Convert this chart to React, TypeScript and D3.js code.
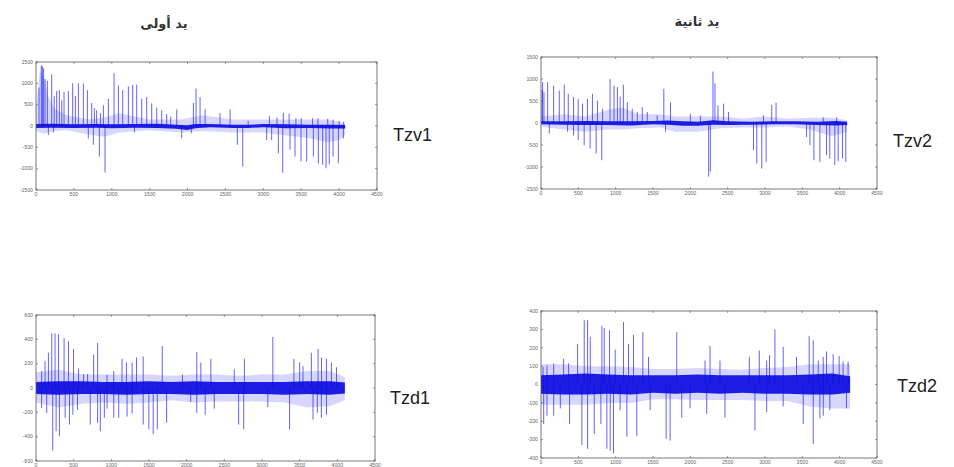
import React from "react";
import * as d3 from "d3";

type Spike = [number, number];
type Band = [number, number, number]; // x, low, high

const xTicks = [0, 500, 1000, 1500, 2000, 2500, 3000, 3500, 4000, 4500];
const tzvTicks = [-1500, -1000, -500, 0, 500, 1000, 1500];
const tzd1Ticks = [-600, -400, -200, 0, 200, 400, 600];
const tzd2Ticks = [-400, -300, -200, -100, 0, 100, 200, 300, 400];

const titles = ["يد أولى", "يد ثانية"];

// Tzv1 (first hand)
const tzv1Spikes: Spike[] = [
  [40, 900], [70, 1420], [84, 1400], [100, 1350], [120, 1100], [150, 1060], [207, 1210], [240, 700],
  [273, 820], [308, 840], [340, 600], [370, 800], [427, 820], [484, 1000], [520, 700], [559, 1000],
  [625, 1000], [678, 840], [735, 540], [770, 420], [800, 370], [850, 300], [889, 490], [955, 640],
  [1030, 1240], [1087, 950], [1144, 840], [1219, 930], [1276, 960], [1329, 970], [1395, 640],
  [1461, 680], [1527, 530], [1593, 430], [1659, 370], [1725, 280], [1777, 220], [1857, 390],
  [2077, 540], [2112, 880], [2165, 680], [2231, 390], [2429, 300], [2561, 390], [2800, 120],
  [3080, 230], [3180, 200], [3264, 310], [3340, 290], [3430, 180], [3500, 180], [3650, 180],
  [3720, 180], [3850, 170], [3920, 150], [4000, 120], [4060, 100],
  [163, -210], [230, -150], [690, -290], [757, -440], [836, -715], [911, -1090], [1300, -150],
  [1923, -290], [2050, -170], [2657, -440], [2728, -950], [3044, -330], [3110, -330], [3198, -640],
  [3256, -1100], [3352, -560], [3418, -715], [3497, -830], [3572, -830], [3660, -715], [3726, -880],
  [3783, -910], [3827, -990], [3870, -900], [3920, -720], [3990, -870], [4056, -290],
];
const tzv1Core: Band[] = [
  [0, -45, 45], [200, -40, 50], [500, -45, 40], [800, -40, 45], [1000, -55, 40], [1300, -40, 45],
  [1600, -45, 55], [1850, -65, 30], [2000, -95, 20], [2100, -50, 45], [2300, -30, 45], [2600, -45, 30],
  [2800, -45, 30], [3000, -30, 45], [3300, -55, 40], [3600, -45, 30], [3900, -60, 30], [4080, -60, 25],
];
const tzv1Halo: Band[] = [
  [0, -120, 400], [50, -150, 1300], [110, -180, 1100], [160, -150, 700], [250, -120, 400],
  [400, -100, 250], [700, -200, 150], [900, -250, 200], [1100, -150, 300], [1500, -100, 150],
  [1900, -150, 150], [2200, -120, 250], [2600, -150, 150], [3000, -150, 150], [3300, -220, 150],
  [3600, -280, 150], [3850, -380, 150], [4000, -330, 100], [4080, -220, 50],
];

// Tzv2 (second hand)
const tzv2Spikes: Spike[] = [
  [15, 750], [22, 930], [40, 700], [89, 930], [169, 850], [245, 740], [311, 870], [365, 665],
  [436, 590], [498, 550], [556, 440], [622, 550], [689, 665], [756, 510], [825, 325], [925, 1000],
  [978, 850], [1023, 815], [1060, 600], [1103, 870], [1156, 475], [1222, 325], [1290, 250],
  [1356, 360], [1423, 250], [1556, 170], [1645, 780], [1734, 475], [2000, 210], [2135, 170],
  [2303, 1170], [2330, 900], [2370, 400], [2446, 440], [2512, 250], [2979, 175], [3090, 415],
  [3148, 460], [3780, 130], [3960, 130],
  [111, -240], [356, -200], [436, -280], [498, -390], [578, -506], [658, -580], [738, -695],
  [814, -846], [1668, -200], [2245, -1220], [2268, -1100], [2846, -620], [2890, -920], [2957, -1035],
  [3015, -884], [3557, -317], [3602, -506], [3655, -846], [3735, -884], [3824, -733], [3868, -808],
  [3935, -959], [3980, -870], [4037, -808], [4082, -884],
];
const tzv2Core: Band[] = [
  [0, -30, 40], [300, -40, 40], [600, -45, 45], [900, -45, 40], [1200, -55, 40], [1500, -30, 45],
  [1700, -40, 55], [1900, -65, 40], [2100, -65, 30], [2300, -40, 65], [2500, -45, 40], [2800, -40, 30],
  [3100, -30, 40], [3400, -30, 40], [3700, -45, 30], [3950, -55, 45], [4100, -45, 30],
];
const tzv2Halo: Band[] = [
  [0, -80, 150], [300, -150, 200], [600, -200, 150], [900, -150, 300], [1100, -150, 350],
  [1300, -120, 200], [1600, -100, 200], [1800, -200, 150], [2100, -200, 150], [2400, -120, 150],
  [2700, -100, 100], [3000, -100, 150], [3300, -80, 100], [3600, -150, 120], [3900, -300, 120],
  [4100, -200, 60],
];

// Tzd1
const tzd1Spikes: Spike[] = [
  [75, 140], [120, 220], [165, 290], [209, 450], [253, 450], [298, 440], [373, 410], [431, 385],
  [498, 320], [565, 160], [631, 115], [685, 115], [765, 275], [818, 370], [943, 110], [1032, 140],
  [1142, 240], [1200, 210], [1276, 210], [1334, 250], [1423, 260], [1676, 345], [1944, 110],
  [2134, 295], [2188, 210], [2321, 240], [2632, 155], [2766, 240], [3144, 420], [3424, 240],
  [3500, 210], [3544, 180], [3655, 290], [3744, 320], [3790, 250], [3855, 240], [3922, 210], [3989, 170],
  [75, -165], [142, -205], [222, -515], [267, -355], [311, -395], [387, -245], [445, -300],
  [489, -220], [551, -180], [720, -300], [818, -285], [854, -355], [907, -245], [943, -170],
  [1032, -245], [1098, -245], [1209, -235], [1276, -210], [1423, -300], [1498, -340], [1556, -380],
  [1610, -340], [1734, -285], [2054, -115], [2134, -205], [2246, -220], [2366, -170], [2690, -300],
  [2757, -340], [3077, -155], [3366, -340], [3677, -260], [3735, -205], [3788, -245], [3855, -220],
];
const tzd1Core: Band[] = [
  [0, -50, 50], [300, -55, 55], [600, -50, 55], [900, -50, 50], [1200, -55, 50], [1500, -50, 55],
  [1800, -50, 50], [2100, -55, 55], [2400, -50, 50], [2700, -50, 50], [3000, -50, 50], [3300, -55, 50],
  [3600, -50, 55], [3900, -55, 55], [4100, -45, 45],
];
const tzd1Halo: Band[] = [
  [0, -120, 130], [300, -160, 150], [600, -130, 110], [900, -120, 110], [1200, -130, 110],
  [1500, -120, 110], [1800, -100, 100], [2100, -120, 110], [2400, -110, 110], [2700, -110, 100],
  [3000, -110, 110], [3300, -120, 110], [3600, -160, 140], [3900, -150, 140], [4100, -100, 90],
];

// Tzd2
const tzd2Spikes: Spike[] = [
  [27, 95], [80, 105], [170, 115], [303, 140], [370, 115], [490, 220], [579, 350], [624, 350],
  [660, 260], [816, 320], [847, 308], [918, 295], [994, 190], [1105, 340], [1172, 220], [1239, 270],
  [1364, 285], [1440, 150], [1818, 285], [2197, 130], [2264, 210], [2397, 130], [2790, 150],
  [2923, 185], [3022, 130], [3060, 160], [3133, 300], [3244, 205], [3422, 150], [3592, 265],
  [3646, 240], [3713, 130], [3780, 150], [3824, 180], [3913, 165], [3993, 155], [4046, 125], [4113, 125],
  [36, -215], [80, -170], [170, -170], [259, -130], [383, -215], [548, -330], [624, -350],
  [713, -270], [802, -215], [882, -350], [927, -360], [971, -375], [1060, -140], [1150, -285],
  [1283, -280], [1462, -140], [1676, -295], [1729, -305], [1885, -180], [1996, -130], [2219, -160],
  [2464, -180], [2865, -250], [3022, -150], [3244, -120], [3512, -215], [3646, -325], [3735, -185],
  [3780, -170], [3868, -140], [4091, -130],
];
const tzd2Core: Band[] = [
  [0, -50, 50], [300, -55, 55], [600, -55, 60], [900, -50, 55], [1200, -55, 50], [1500, -45, 50],
  [1800, -50, 50], [2100, -45, 55], [2400, -50, 50], [2700, -45, 50], [3000, -50, 50], [3300, -50, 50],
  [3600, -55, 55], [3900, -55, 60], [4140, -45, 45],
];
const tzd2Halo: Band[] = [
  [0, -110, 110], [300, -110, 110], [600, -110, 100], [900, -100, 100], [1200, -100, 95],
  [1500, -80, 85], [1800, -80, 85], [2100, -85, 90], [2400, -85, 85], [2700, -85, 80],
  [3000, -90, 90], [3300, -90, 95], [3600, -120, 110], [3900, -130, 110], [4140, -130, 110],
];

const panels = [
  { name: "Tzv1", left: 36, top: 62, width: 341, height: 128, yTicks: tzvTicks, spikes: tzv1Spikes, core: tzv1Core, halo: tzv1Halo, lx: 393, ly: 141 },
  { name: "Tzv2", left: 541, top: 57, width: 336, height: 132, yTicks: tzvTicks, spikes: tzv2Spikes, core: tzv2Core, halo: tzv2Halo, lx: 893, ly: 147 },
  { name: "Tzd1", left: 36, top: 315, width: 339, height: 146, yTicks: tzd1Ticks, spikes: tzd1Spikes, core: tzd1Core, halo: tzd1Halo, lx: 390, ly: 404 },
  { name: "Tzd2", left: 541, top: 311, width: 336, height: 147, yTicks: tzd2Ticks, spikes: tzd2Spikes, core: tzd2Core, halo: tzd2Halo, lx: 897, ly: 392 },
];

function Panel({ p }: { p: (typeof panels)[number] }) {
  const ext = d3.extent(p.yTicks) as [number, number];
  const x = d3.scaleLinear().domain([0, 4500]).range([p.left, p.left + p.width]);
  const y = d3.scaleLinear().domain(ext).range([p.top + p.height, p.top]);
  const area = d3.area<Band>().x((d) => x(d[0])).y0((d) => y(d[1])).y1((d) => y(d[2]));
  const bottom = p.top + p.height;
  const right = p.left + p.width;
  const tickFont = { fontSize: 5.2, fill: "#666", fontFamily: "Liberation Sans, Arial, sans-serif" };

  return (
    <g>
      <path d={area(p.halo) || ""} fill="#5a5aff" opacity={0.25} />
      {p.spikes.map((s, i) => (
        <line key={i} x1={x(s[0])} x2={x(s[0])} y1={y(0)} y2={y(s[1])} stroke="#2222ff" strokeWidth={1} opacity={0.7} />
      ))}
      <path d={area(p.core) || ""} fill="#0c0ce0" opacity={0.92} />
      <rect x={p.left} y={p.top} width={p.width} height={p.height} fill="none" stroke="#555" strokeWidth={0.8} />
      {xTicks.map((t) => (
        <g key={"x" + t}>
          <line x1={x(t)} x2={x(t)} y1={bottom} y2={bottom - 2} stroke="#555" strokeWidth={0.6} />
          <line x1={x(t)} x2={x(t)} y1={p.top} y2={p.top + 2} stroke="#555" strokeWidth={0.6} />
          <text x={x(t)} y={bottom + 5.5} textAnchor="middle" style={tickFont}>{t}</text>
        </g>
      ))}
      {p.yTicks.map((t) => (
        <g key={"y" + t}>
          <line x1={p.left} x2={p.left + 2} y1={y(t)} y2={y(t)} stroke="#555" strokeWidth={0.6} />
          <line x1={right} x2={right - 2} y1={y(t)} y2={y(t)} stroke="#555" strokeWidth={0.6} />
          <text x={p.left - 3} y={y(t) + 1.8} textAnchor="end" style={tickFont}>{t}</text>
        </g>
      ))}
      <text x={p.lx} y={p.ly} style={{ fontSize: 18, fill: "#222", fontFamily: "Liberation Sans, Arial, sans-serif" }}>{p.name}</text>
    </g>
  );
}

export default function App() {
  return (
    <svg width={954} height={467} style={{ position: "absolute", left: 0, top: 0, background: "#fff" }}>
      <rect width={954} height={467} fill="#fff" />
      <text x={164} y={28} textAnchor="middle" style={{ fontSize: 13, fontWeight: "bold", fill: "#333", fontFamily: "DejaVu Sans, sans-serif" }}>{titles[0]}</text>
      <text x={697} y={26} textAnchor="middle" style={{ fontSize: 13, fontWeight: "bold", fill: "#333", fontFamily: "DejaVu Sans, sans-serif" }}>{titles[1]}</text>
      {panels.map((p) => (
        <Panel key={p.name} p={p} />
      ))}
    </svg>
  );
}
